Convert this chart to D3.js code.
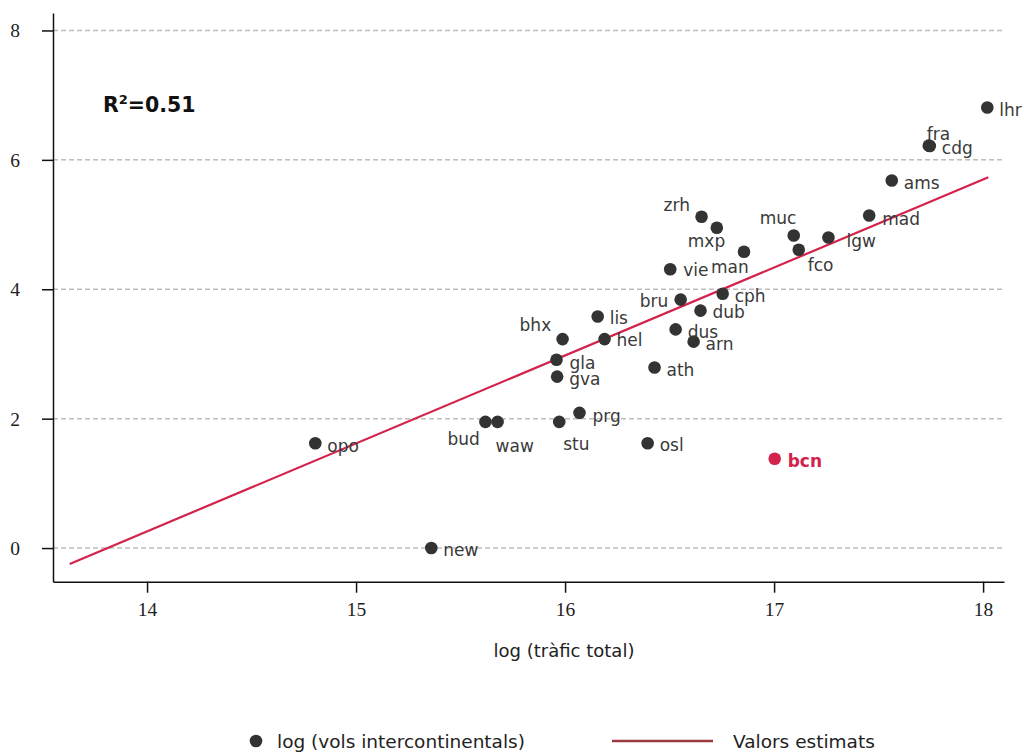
<!DOCTYPE html>
<html>
<head>
<meta charset="utf-8">
<script src="https://cdn.jsdelivr.net/npm/d3@7"></script>
<style>
  html, body { margin: 0; padding: 0; background: #fff; }
  svg { display: block; }
</style>
</head>
<body>
<svg id="chart" width="1024" height="754"></svg>
<script>
// ---- data ----
const codes = ["lhr","fra","cdg","ams","mad","lgw","muc","fco","man","zrh","mxp","vie","cph","bru","dub","dus","arn","lis","hel","bhx","gla","gva","ath","prg","stu","bud","waw","osl","opo","new","bcn"];
const logTrafic = [18.02,17.74,17.745,17.563,17.455,17.26,17.094,17.118,16.856,16.653,16.726,16.503,16.754,16.553,16.648,16.529,16.615,16.156,16.189,15.988,15.959,15.962,16.428,16.069,15.972,15.619,15.677,16.395,14.805,15.36,17.003];
const logIntercont = [6.81,6.22,6.215,5.68,5.14,4.80,4.83,4.61,4.58,5.12,4.95,4.31,3.93,3.84,3.67,3.38,3.19,3.58,3.23,3.23,2.91,2.65,2.79,2.09,1.95,1.95,1.95,1.62,1.62,0.0,1.38];
const highlight = ["bcn"];
const fitX = [13.63, 18.025];
const fitY = [-0.245, 5.73];
const xTicks = [14, 15, 16, 17, 18];
const yTicks = [0, 2, 4, 6, 8];
const r2Text = "0.51";
const xTitle = "log (tràfic total)";
const legendPoints = "log (vols intercontinentals)";
const legendLine = "Valors estimats";

// ---- label layout (offsets in px from the point) ----
const labelOffset = {
  lhr:[12,9], fra:[-2,-6], cdg:[12,8], ams:[12,8], mad:[13,9], lgw:[18,9],
  muc:[-34,-12], fco:[9,21], man:[-33,21], zrh:[-38,-6], mxp:[-29,19], vie:[13,7],
  cph:[12,8], bru:[-41,7], dub:[12,7], dus:[12,9], arn:[12,8], lis:[12,8],
  hel:[12,7], bhx:[-43,-8], gla:[13,9], gva:[12,8], ath:[12,8], prg:[13,9],
  stu:[4,28], bud:[-38,23], waw:[-2,30], osl:[12,8], opo:[12,9], new:[12,8], bcn:[13,8]
};

const points = codes.map((c, i) => ({ code: c, x: logTrafic[i], y: logIntercont[i] }));

const svg = d3.select("#chart");
const x = d3.scaleLinear().domain([13.55, 18.10]).range([53, 1004]);
const y = d3.scaleLinear().domain([-0.52, 8.27]).range([581.7, 13]);

const dark = "#333333";
const red = "#d3224c";
const serif = "'Liberation Serif', 'Times New Roman', serif";
const sans = "'DejaVu Sans', Verdana, sans-serif";

// gridlines
svg.append("g").selectAll("line").data(yTicks).join("line")
  .attr("x1", x.range()[0]).attr("x2", 1002)
  .attr("y1", d => y(d)).attr("y2", d => y(d))
  .attr("stroke", "#bdbdbd").attr("stroke-width", 1.5)
  .attr("stroke-dasharray", "5,3");

// axes
const yAxis = svg.append("g").attr("transform", `translate(${x.range()[0]},0)`)
  .call(d3.axisLeft(y).tickValues(yTicks).tickSize(11).tickSizeOuter(0).tickPadding(22).tickFormat(d3.format("d")));
const xAxis = svg.append("g").attr("transform", `translate(0,${y.range()[0]})`)
  .call(d3.axisBottom(x).tickValues(xTicks).tickSize(11).tickSizeOuter(0).tickPadding(10).tickFormat(d3.format("d")));
[yAxis, xAxis].forEach(a => {
  a.select(".domain").attr("stroke", "#111").attr("stroke-width", 1.5);
  a.selectAll(".tick line").attr("stroke", "#111").attr("stroke-width", 1.5);
  a.selectAll(".tick text").attr("font-family", serif).attr("font-size", 19.5).attr("fill", "#222");
});
yAxis.selectAll(".tick text").attr("dy", "0.33em");
xAxis.selectAll(".tick text").attr("dy", "0.7em");

// regression line
const line = d3.line().x(d => x(d[0])).y(d => y(d[1]));
svg.append("path").datum(fitX.map((v, i) => [v, fitY[i]]))
  .attr("d", line).attr("fill", "none").attr("stroke", red).attr("stroke-width", 2.2);

// points
svg.append("g").selectAll("circle").data(points).join("circle")
  .attr("cx", d => x(d.x)).attr("cy", d => y(d.y)).attr("r", 6.3)
  .attr("fill", d => highlight.includes(d.code) ? red : dark);

// labels
svg.append("g").selectAll("text").data(points).join("text")
  .attr("x", d => x(d.x) + labelOffset[d.code][0])
  .attr("y", d => y(d.y) + labelOffset[d.code][1])
  .attr("font-family", sans).attr("font-size", 17)
  .attr("font-weight", d => highlight.includes(d.code) ? "bold" : "normal")
  .attr("fill", d => highlight.includes(d.code) ? red : "#3a3a3a")
  .text(d => d.code);

// R^2
const r2 = svg.append("text").attr("x", 103).attr("y", 112)
  .attr("font-family", sans).attr("font-size", 20.5).attr("font-weight", "bold").attr("fill", "#111");
r2.append("tspan").text("R");
r2.append("tspan").attr("font-size", 13).attr("dy", -8).text("2");
r2.append("tspan").attr("dy", 8).text("=" + r2Text);

// x title
svg.append("text").attr("x", 564).attr("y", 657).attr("text-anchor", "middle")
  .attr("font-family", sans).attr("font-size", 18).attr("fill", "#222").text(xTitle);

// legend
const lg = svg.append("g");
lg.append("circle").attr("cx", 256).attr("cy", 741).attr("r", 6.3).attr("fill", dark);
lg.append("text").attr("x", 277).attr("y", 748).attr("font-family", sans).attr("font-size", 18.5)
  .attr("fill", "#222").text(legendPoints);
lg.append("line").attr("x1", 612).attr("x2", 713).attr("y1", 741).attr("y2", 741)
  .attr("stroke", "#9c3a40").attr("stroke-width", 2.5);
lg.append("text").attr("x", 733).attr("y", 748).attr("font-family", sans).attr("font-size", 18.5)
  .attr("fill", "#222").text(legendLine);
</script>
</body>
</html>
